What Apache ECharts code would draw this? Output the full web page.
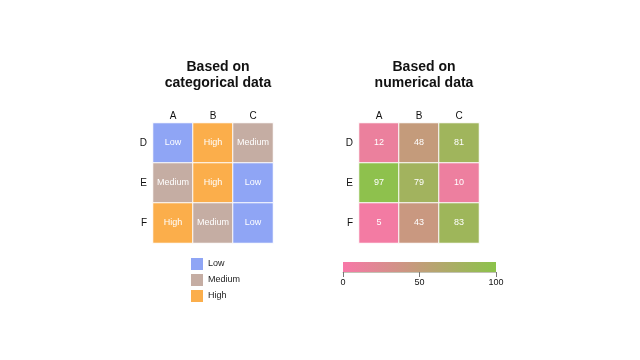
<!DOCTYPE html>
<html><head><meta charset="utf-8">
<script src="https://cdn.jsdelivr.net/npm/echarts@6/dist/echarts.min.js"></script>
<style>html,body{margin:0;padding:0;background:#fff}#c{width:640px;height:360px}</style>
</head><body><div id="c"></div>
<script>
const columns = ['A', 'B', 'C'];
const rows = ['D', 'E', 'F'];
const levels = ['Low', 'Medium', 'High'];
const levelColors = ['#8fa5f5', '#c5ada3', '#fbae4b'];
const catRowD = ['Low', 'High', 'Medium'];
const catRowE = ['Medium', 'High', 'Low'];
const catRowF = ['High', 'Medium', 'Low'];
const numRowD = [12, 48, 81];
const numRowE = [97, 79, 10];
const numRowF = [5, 43, 83];
const scaleTicks = [0, 50, 100];
const scaleColors = ['#f877a8', '#8bc34a'];

const catRows = [catRowD, catRowE, catRowF];
const numRows = [numRowD, numRowE, numRowF];
const catData = [], numData = [];
rows.forEach((r, ri) => columns.forEach((c, ci) => {
  catData.push([ci, ri, levels.indexOf(catRows[ri][ci])]);
  numData.push([ci, ri, numRows[ri][ci]]);
}));

const font = 'Liberation Sans, Arial, Helvetica, sans-serif';
function xAx(gi) {
  return { type: 'category', gridIndex: gi, data: columns, position: 'top',
    axisLine: {show: false}, axisTick: {show: false}, splitLine: {show: false},
    axisLabel: {fontSize: 10, color: '#111', margin: 2, fontFamily: font} };
}
function yAx(gi) {
  return { type: 'category', gridIndex: gi, data: rows, inverse: true,
    axisLine: {show: false}, axisTick: {show: false}, splitLine: {show: false},
    axisLabel: {fontSize: 10, color: '#111', margin: 6, fontFamily: font} };
}
const chart = echarts.init(document.getElementById('c'), null, {renderer: 'canvas'});
chart.setOption({
  animation: false,
  backgroundColor: '#fff',
  textStyle: {fontFamily: font},
  title: [
    {text: 'Based on\ncategorical data', left: 213, top: 54, textAlign: 'center',
      textStyle: {fontSize: 14, fontWeight: 'bold', lineHeight: 16, color: '#111', fontFamily: font}},
    {text: 'Based on\nnumerical data', left: 419, top: 54, textAlign: 'center',
      textStyle: {fontSize: 14, fontWeight: 'bold', lineHeight: 16, color: '#111', fontFamily: font}}
  ],
  grid: [
    {left: 153, top: 123, width: 120, height: 120},
    {left: 359, top: 123, width: 120, height: 120},
    {left: 343, top: 262, width: 153, height: 10, show: true, borderWidth: 0,
      backgroundColor: new echarts.graphic.LinearGradient(0, 0, 1, 0, [
        {offset: 0, color: scaleColors[0]}, {offset: 1, color: scaleColors[1]}])}
  ],
  xAxis: [xAx(0), xAx(1), {
    type: 'value', gridIndex: 2, min: scaleTicks[0], max: scaleTicks[scaleTicks.length - 1], interval: 50,
    position: 'bottom', splitLine: {show: false},
    axisLine: {show: true, lineStyle: {color: 'rgba(80,80,40,0.35)', width: 1}},
    axisTick: {show: true, length: 5, lineStyle: {color: '#777'}},
    axisLabel: {fontSize: 9, color: '#111', margin: 6, fontFamily: font}
  }],
  yAxis: [yAx(0), yAx(1), {type: 'value', gridIndex: 2, show: false, min: 0, max: 1}],
  visualMap: [
    {type: 'piecewise', seriesIndex: 0, dimension: 2, orient: 'vertical', inverse: true,
      left: 191, top: 258, padding: 0, itemWidth: 12, itemHeight: 12, itemGap: 4, textGap: 5,
      itemSymbol: 'rect', selectedMode: false,
      textStyle: {fontSize: 9, color: '#222', fontFamily: font},
      pieces: levels.map((l, i) => ({value: i, label: l, color: levelColors[i]}))},
    {type: 'continuous', seriesIndex: 1, dimension: 2, show: false,
      min: scaleTicks[0], max: scaleTicks[scaleTicks.length - 1], inRange: {color: scaleColors}}
  ],
  series: [
    {type: 'heatmap', xAxisIndex: 0, yAxisIndex: 0, data: catData,
      itemStyle: {borderColor: '#fff', borderWidth: 1},
      emphasis: {disabled: true},
      label: {show: true, color: '#fff', fontSize: 9, fontFamily: font,
        formatter: p => levels[p.value[2]]}},
    {type: 'heatmap', xAxisIndex: 1, yAxisIndex: 1, data: numData,
      itemStyle: {borderColor: '#fff', borderWidth: 1},
      emphasis: {disabled: true},
      label: {show: true, color: '#fff', fontSize: 9, fontFamily: font,
        formatter: p => String(p.value[2])}}
  ]
});
</script></body></html>
